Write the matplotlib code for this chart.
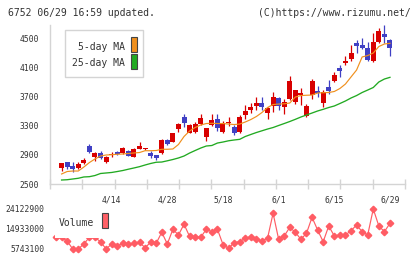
import numpy as np
import matplotlib
matplotlib.use("Agg")
import matplotlib.pyplot as plt
from matplotlib.patches import Rectangle

# ---------------------------------------------------------------------------
# Data (6752, 3/31 .. 6/29)
# ---------------------------------------------------------------------------
dates = ["3/31", "4/1", "4/2", "4/3", "4/6", "4/7", "4/8", "4/9", "4/10", "4/13",
         "4/14", "4/15", "4/16", "4/17", "4/20", "4/21", "4/22", "4/23", "4/24", "4/27",
         "4/28", "4/30", "5/1", "5/7", "5/8", "5/11", "5/12", "5/13", "5/14", "5/15",
         "5/18", "5/19", "5/20", "5/21", "5/22", "5/25", "5/26", "5/27", "5/28", "5/29",
         "6/1", "6/2", "6/3", "6/4", "6/5", "6/8", "6/9", "6/10", "6/11", "6/12",
         "6/15", "6/16", "6/17", "6/18", "6/19", "6/22", "6/23", "6/24", "6/25", "6/26",
         "6/29"]

open_ = [2578, 2725, 2799, 2750, 2716, 2795, 3030, 2877, 2923, 2799,
         2905, 2945, 2923, 2960, 2876, 2985, 2980, 2923, 2900, 2932,
         3107, 3083, 3260, 3430, 3210, 3221, 3327, 3152, 3314, 3396,
         3221, 3345, 3290, 3221, 3452, 3520, 3576, 3621, 3483, 3580,
         3690, 3557, 3672, 3635, 3731, 3442, 3727, 3783, 3613, 3842,
         3921, 4104, 4164, 4219, 4449, 4421, 4376, 4200, 4463, 4569,
         4486]
high = [2580, 2790, 2803, 2800, 2800, 2855, 3050, 2945, 2950, 2890,
        2945, 2955, 3010, 2970, 2990, 3083, 3000, 2955, 2905, 3117,
        3120, 3205, 3335, 3460, 3330, 3350, 3465, 3275, 3465, 3465,
        3370, 3420, 3314, 3452, 3590, 3621, 3704, 3704, 3566, 3773,
        3704, 3667, 3994, 3800, 3820, 3600, 3948, 3851, 3796, 3934,
        4049, 4141, 4265, 4417, 4486, 4509, 4454, 4578, 4656, 4693,
        4500]
low = [2578, 2683, 2707, 2670, 2705, 2780, 2925, 2820, 2850, 2790,
       2868, 2900, 2910, 2880, 2876, 2980, 2965, 2863, 2830, 2914,
       3040, 3080, 3220, 3290, 3200, 3200, 3310, 3095, 3300, 3235,
       3208, 3305, 3175, 3208, 3392, 3483, 3520, 3520, 3396, 3497,
       3520, 3465, 3660, 3610, 3590, 3428, 3668, 3704, 3566, 3741,
       3903, 3980, 4141, 4196, 4311, 4357, 4200, 4178, 4440, 4440,
       4270]
close = [2580, 2785, 2739, 2707, 2772, 2831, 2945, 2932, 2854, 2868,
         2912, 2918, 2996, 2890, 2983, 3028, 2985, 2890, 2863, 3107,
         3052, 3199, 3327, 3345, 3320, 3330, 3406, 3272, 3382, 3277,
         3337, 3352, 3199, 3428, 3507, 3566, 3613, 3566, 3544, 3696,
         3580, 3635, 3921, 3796, 3759, 3576, 3921, 3751, 3773, 3783,
         4003, 4063, 4200, 4311, 4403, 4376, 4210, 4458, 4610, 4532,
         4380]

ma5 = [np.nan, 2638, 2672, 2679, 2679, 2734, 2796, 2845, 2886, 2900,
       2904, 2910, 2914, 2921, 2928, 2934, 2959, 2959, 2962, 2979,
       2979, 2983, 3045, 3155, 3231, 3279, 3314, 3334, 3337, 3334,
       3334, 3327, 3320, 3327, 3355, 3389, 3431, 3486, 3555, 3596,
       3603, 3606, 3617, 3700, 3720, 3724, 3727, 3755, 3759, 3762,
       3776, 3817, 3879, 3976, 4072, 4252, 4272, 4307, 4396, 4431,
       4440]
ma25 = [np.nan, 2555, 2559, 2569, 2579, 2597, 2601, 2617, 2645, 2652,
        2659, 2672, 2686, 2704, 2721, 2739, 2762, 2783, 2800, 2803,
        2820, 2838, 2859, 2886, 2927, 2962, 2996, 3024, 3031, 3065,
        3079, 3096, 3107, 3116, 3155, 3183, 3210, 3234, 3258, 3279,
        3307, 3334, 3362, 3392, 3424, 3452, 3479, 3507, 3530, 3555,
        3576, 3610, 3645, 3686, 3720, 3762, 3796, 3831, 3907, 3948,
        3971]

volume = [11120000, 11120000, 9420000, 5743100, 5743100, 8040000, 11120000, 11030000, 9100000, 5743100,
          8040000, 7120000, 8360000, 8040000, 8360000, 8820000, 6340000, 8820000, 8360000, 13420000,
          8040000, 14800000, 12180000, 17140000, 11490000, 11120000, 11120000, 14800000, 13690000, 14800000,
          7810000, 6060000, 8640000, 9100000, 10660000, 11390000, 10200000, 9560000, 10660000, 22150000,
          10200000, 11720000, 15710000, 13420000, 10200000, 12960000, 20310000, 14470000, 9100000, 16310000,
          11720000, 12180000, 12180000, 14150000, 16770000, 13690000, 12180000, 24122900, 16310000, 13690000,
          17550000]

price_ticks = [2500, 2900, 3300, 3700, 4100, 4500]
vol_ticks = [5743100, 14933000, 24122900]
label_every = 10

header_left = "6752 06/29 16:59 updated."
header_right = "(C)https://www.rizumu.net/"

# ---------------------------------------------------------------------------
# Style
# ---------------------------------------------------------------------------
RED, BLUE = "#d80000", "#4040c4"
ORANGE, GREEN = "#f0901e", "#22aa22"
VOLC = "#ff5c64"
GRID = "#d4d4d4"
TXT = "#333333"
W, H = 420, 259
plt.rcParams["font.family"] = ["DejaVu Sans Mono"]

def fx(px):
    return px / W

def fy(py):
    return 1 - py / H

fig = plt.figure(figsize=(W / 100, H / 100), dpi=100)

x = np.arange(len(close))
xlim = (-1.08, 62.7)

# ---------------------------------------------------------------------------
# Price panel
# ---------------------------------------------------------------------------
ax = fig.add_axes([fx(50), fy(184), fx(405) - fx(50), fy(25) - fy(184)])
o, c, h, l = map(np.array, (open_, close, high, low))
cols = np.where(c >= o, RED, BLUE)
ax.vlines(x, l, h, colors=cols, lw=0.9, zorder=2)
body_lo = np.minimum(o, c)
body_h = np.maximum(np.abs(c - o), 10)
ax.bar(x, body_h, bottom=body_lo, width=0.9, color=cols, lw=0, zorder=3)
ax.plot(x, ma5, color=ORANGE, lw=0.85, zorder=4)
ax.plot(x, ma25, color=GREEN, lw=0.95, zorder=4)

ax.set_xlim(*xlim)
ax.set_ylim(price_ticks[0], max(high))
ax.set_yticks(price_ticks)
ax.set_yticklabels([str(t) for t in price_ticks])
lab_idx = [i for i in x if i % label_every == 0 and i > 0]
ax.set_xticks(lab_idx)
ax.set_xticklabels([dates[i] for i in lab_idx])
ax.set_xticks(np.linspace(xlim[0], xlim[1], 12), minor=True)
ax.tick_params(axis="both", which="major", length=0, labelsize=5.8, colors=TXT)
ax.tick_params(axis="y", pad=8)
ax.tick_params(axis="x", pad=8)
ax.tick_params(axis="x", which="minor", direction="inout", length=7, color=GRID, width=1)
for s in ("top", "right"):
    ax.spines[s].set_visible(False)
for s in ("left", "bottom"):
    ax.spines[s].set_color(GRID)
    ax.spines[s].set_linewidth(1)

# legend box for moving averages
fig.patches.append(Rectangle((fx(65), fy(77.3)), fx(143.3) - fx(65), fy(30) - fy(77.3),
                             transform=fig.transFigure, facecolor="white",
                             edgecolor=GRID, lw=1, zorder=5))
for lab, col, y0, y1, ty in (("5-day MA", ORANGE, 37.3, 51.7, 46.5),
                             ("25-day MA", GREEN, 54.3, 69.3, 62.5)):
    fig.patches.append(Rectangle((fx(131), fy(y1)), fx(137.3) - fx(131), fy(y0) - fy(y1),
                                 transform=fig.transFigure, facecolor=col,
                                 edgecolor="#444444", lw=0.8, zorder=6))
    fig.text(fx(125), fy(ty), lab, ha="right", va="center", fontsize=7, color=TXT, zorder=6)

# ---------------------------------------------------------------------------
# Volume panel
# ---------------------------------------------------------------------------
av = fig.add_axes([fx(50), fy(253), fx(405) - fx(50), fy(205) - fy(253)])
av.plot(x, volume, color=VOLC, lw=0.85, marker="D", ms=3.3, mec=VOLC, mfc=VOLC, zorder=2)
vmin, vmax = min(volume), max(volume)
marg = (vmax - vmin) * 4 / 40
av.set_ylim(vmin - marg, vmax + marg)
av.set_xlim(*xlim)
av.set_yticks(vol_ticks)
av.set_yticklabels([str(t) for t in vol_ticks])
av.set_xticks([])
av.tick_params(axis="y", length=0, labelsize=5.8, colors=TXT, pad=4)
for s in av.spines.values():
    s.set_visible(False)

fig.patches.append(Rectangle((fx(55), fy(237.5)), fx(112) - fx(55), fy(206) - fy(237.5),
                             transform=fig.transFigure, facecolor="white",
                             edgecolor="none", zorder=5))
fig.text(fx(59), fy(222.5), "Volume", ha="left", va="center", fontsize=7, color=TXT, zorder=6)
fig.patches.append(Rectangle((fx(102), fy(228.3)), fx(108) - fx(102), fy(212.7) - fy(228.3),
                             transform=fig.transFigure, facecolor="#ff6066",
                             edgecolor="#444444", lw=0.8, zorder=6))

# header
fig.text(fx(8), fy(12.5), header_left, ha="left", va="center", fontsize=7, color=TXT)
fig.text(fx(411), fy(12.5), header_right, ha="right", va="center", fontsize=7, color=TXT)

fig.savefig("out.png", dpi=100)
